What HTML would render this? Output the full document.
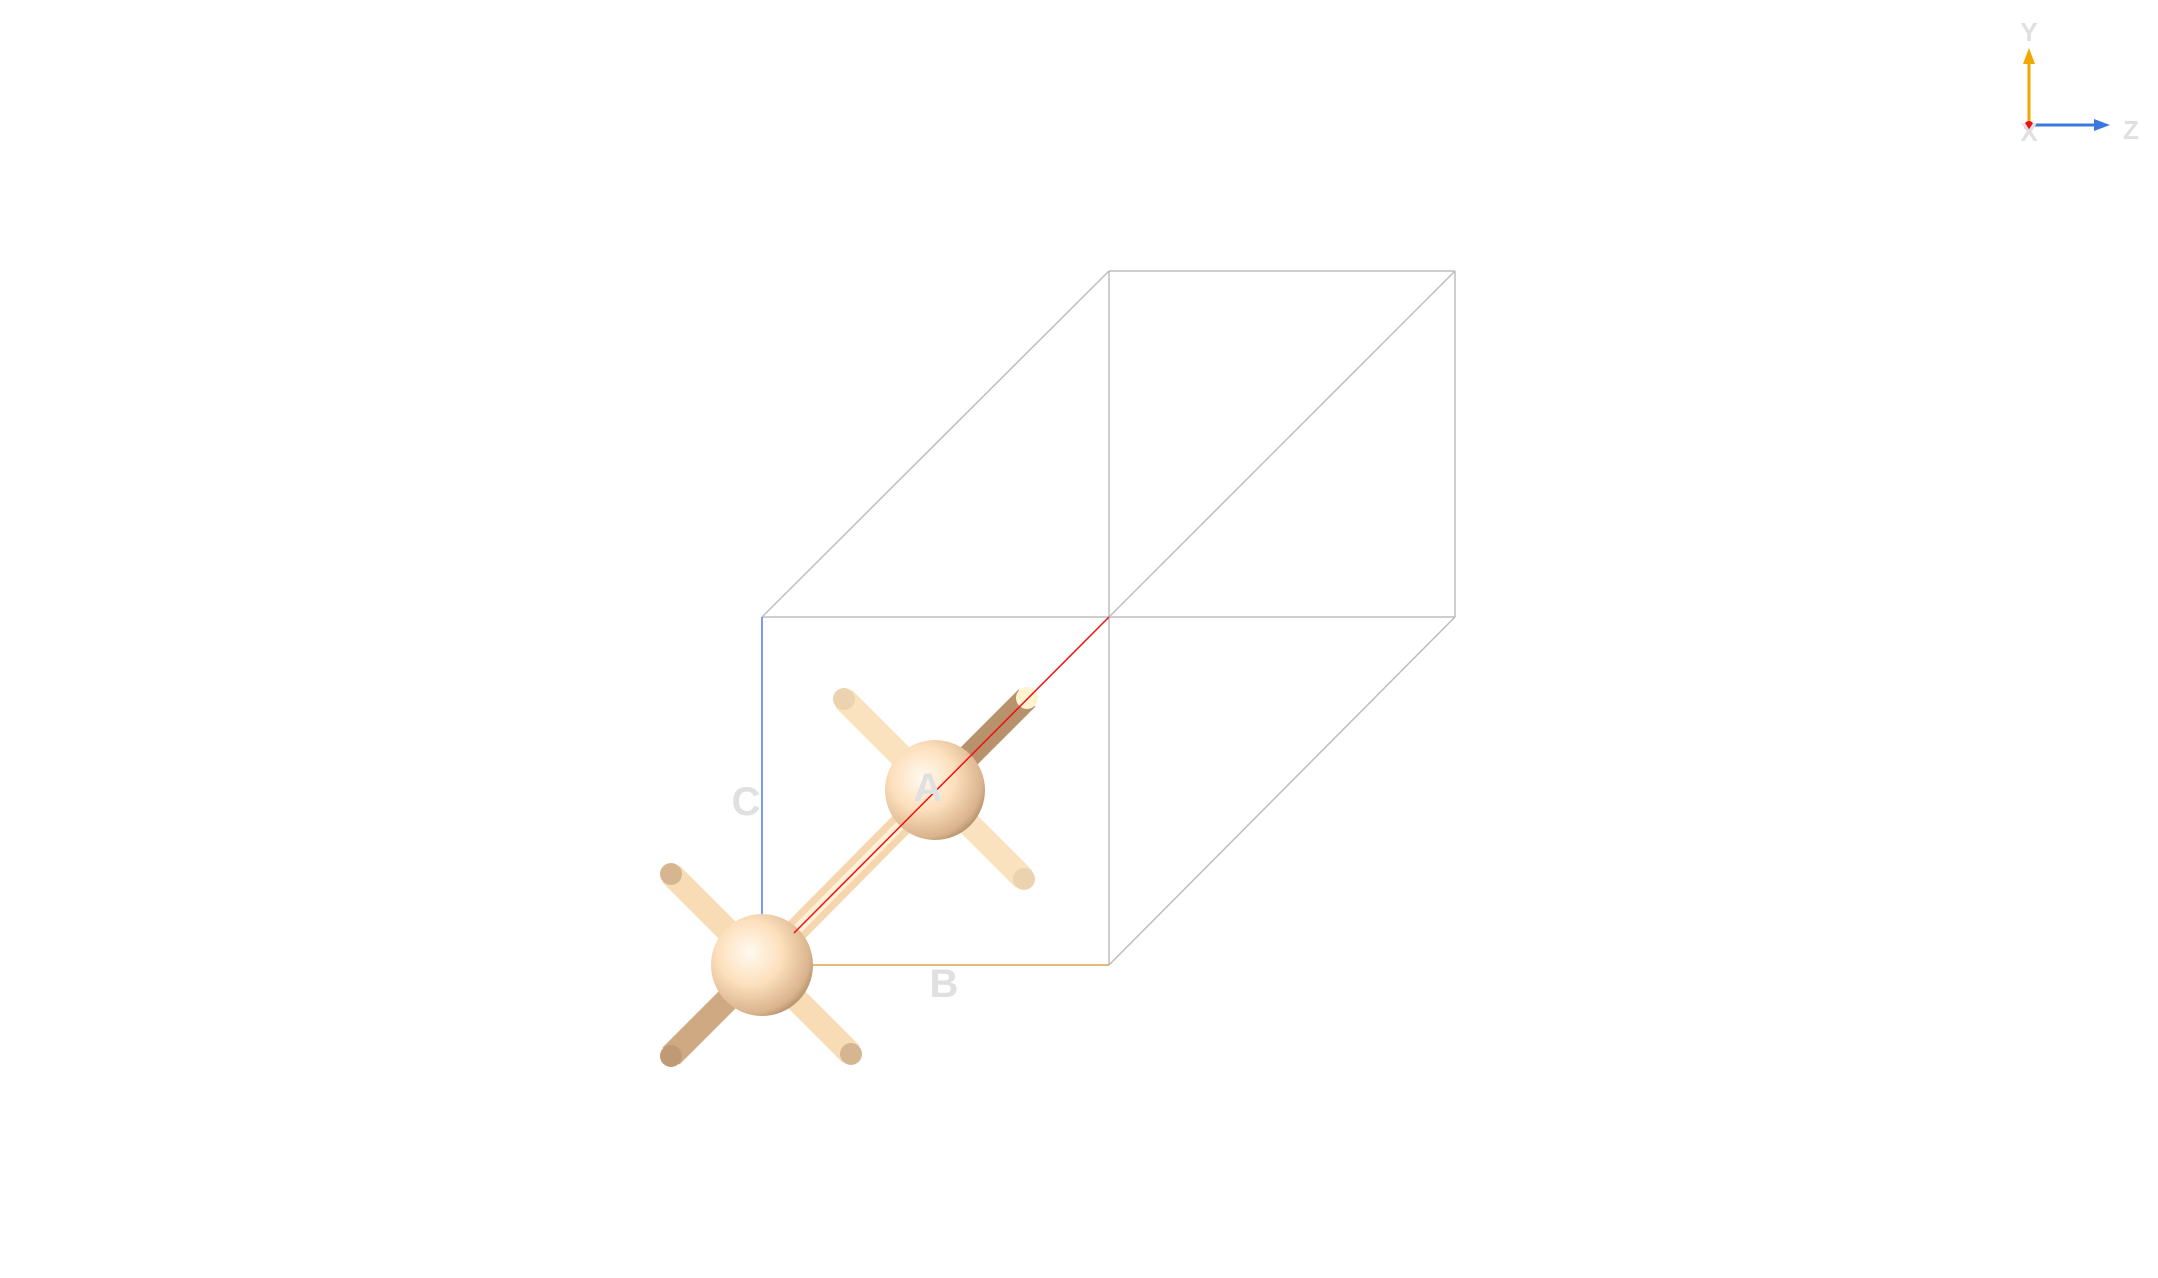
<!DOCTYPE html>
<html><head><meta charset="utf-8"><style>
html,body{margin:0;padding:0;background:#fff;width:2158px;height:1278px;overflow:hidden}
svg{display:block}
text{font-family:"Liberation Sans","DejaVu Sans",sans-serif;font-weight:bold;fill:#e0e0e0}
</style></head><body>
<svg width="2158" height="1278" viewBox="0 0 2158 1278">
<defs>
<radialGradient id="sph" cx="0.38" cy="0.38" r="0.7">
<stop offset="0" stop-color="#fffaf0"/><stop offset="0.45" stop-color="#fde0bd"/><stop offset="0.85" stop-color="#d9b38d"/><stop offset="1" stop-color="#a88460"/>
</radialGradient>
</defs>
<g stroke="#bdbdbd" stroke-width="1.5" fill="none">
<line x1="762" y1="617" x2="1109" y2="271"/>
<line x1="1109" y1="271" x2="1455" y2="271"/>
<line x1="1109" y1="271" x2="1109" y2="617"/>
<line x1="1455" y1="271" x2="1455" y2="617"/>
<line x1="762" y1="617" x2="1455" y2="617"/>
<line x1="1109" y1="617" x2="1455" y2="271"/>
<line x1="1109" y1="617" x2="1109" y2="965"/>
<line x1="1109" y1="965" x2="1455" y2="617"/>
</g>
<line x1="762" y1="617" x2="762" y2="965" stroke="#5577ee" stroke-width="1.5"/>
<line x1="762" y1="965" x2="1109" y2="965" stroke="#e0a050" stroke-width="1.5"/>
<g stroke-linecap="butt">
<line x1="762" y1="965" x2="671" y2="874" stroke="#f8dcb6" stroke-width="24"/>
<line x1="762" y1="965" x2="671" y2="1056" stroke="#cfa982" stroke-width="24"/>
<line x1="762" y1="965" x2="851" y2="1054" stroke="#f8dcb6" stroke-width="24"/>
<line x1="935" y1="790" x2="844" y2="699" stroke="#fbe2bf" stroke-width="24"/>
<line x1="935" y1="790" x2="1024" y2="879" stroke="#fbe2bf" stroke-width="24"/>
<line x1="935" y1="790" x2="1027" y2="698" stroke="#b8926c" stroke-width="24"/>
<line x1="762" y1="965" x2="935" y2="790" stroke="#f5d6ae" stroke-width="24"/>
<line x1="762" y1="965" x2="935" y2="790" stroke="#fff0d8" stroke-width="10"/>
</g>
<g>
<circle cx="671" cy="874" r="11" fill="#d6b690"/>
<circle cx="671" cy="1056" r="11" fill="#c09a74"/>
<circle cx="851" cy="1054" r="11" fill="#d6b690"/>
<circle cx="844" cy="699" r="11" fill="#ecd3b0"/>
<circle cx="1024" cy="879" r="11" fill="#ecd3b0"/>
<circle cx="1027" cy="698" r="11" fill="#fff3d0"/>
</g>
<g>
<circle cx="762" cy="965" r="51" fill="url(#sph)"/>
<circle cx="935" cy="790" r="50" fill="url(#sph)"/>
</g>
<line x1="794" y1="933" x2="1109" y2="617" stroke="#ee1111" stroke-width="1.5"/>
<text x="746" y="815" font-size="40" text-anchor="middle">C</text>
<text x="928" y="801" font-size="40" text-anchor="middle">A</text>
<text x="944" y="997" font-size="40" text-anchor="middle">B</text>
<g>
<line x1="2029" y1="125" x2="2029" y2="60" stroke="#f0a800" stroke-width="3"/>
<polygon points="2029,48 2023,64 2035,64" fill="#f0a800"/>
<line x1="2029" y1="125" x2="2098" y2="125" stroke="#3a78e0" stroke-width="3"/>
<polygon points="2110,125 2094,119 2094,131" fill="#3a78e0"/>
<circle cx="2029" cy="126" r="5" fill="#ee1111"/>
<text x="2029" y="41" font-size="26" text-anchor="middle">Y</text>
<text x="2131" y="139" font-size="26" text-anchor="middle">Z</text>
<text x="2029" y="141" font-size="26" text-anchor="middle">X</text>
</g>
</svg>
</body></html>
